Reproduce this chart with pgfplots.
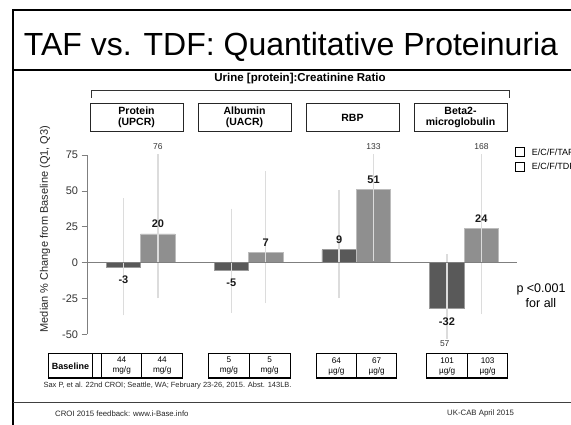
\documentclass[border=0pt]{standalone}
\usepackage{pgfplots}
\pgfplotsset{compat=1.18}
\usepackage{pgfplotstable}
\usepackage{fontspec}
\setmainfont{Liberation Sans}
\definecolor{tafc}{HTML}{595959}
\definecolor{tdfc}{HTML}{8F8F8F}
\definecolor{errc}{HTML}{DCDCDC}
\definecolor{axc}{HTML}{7F7F7F}
\newcommand{\fs}[2]{\fontsize{#1}{#2}\selectfont}

\pgfplotstableread{
x y q1 q3 lab
0 -3 -35 43 -3
1 -5 -33 36 -5
2 9 -23 49 9
3 -32 -57 4 -32
}\taf
\pgfplotstableread{
x y q1 q3 lab
0 20 -23 76 20
1 7 -26.5 62 7
2 51 3 133 51
3 24 -34 168 24
}\tdf

\begin{document}
\begin{tikzpicture}
\useasboundingbox (0pt,0pt) rectangle (571pt,425pt);
\clip (0pt,0pt) rectangle (571pt,425pt);
\begin{scope}[x=1pt,y=1pt]
% slide frame
\draw[line width=1.8pt] (13.3,0) -- (13.3,415) -- (571,415);
\draw[line width=1.5pt] (13.3,355) -- (571,355);
\draw[line width=0.8pt, black!75] (13.3,22.3) -- (571,22.3);
% title
\node[anchor=base, font=\fs{32}{38}] at (291,369.5) {TAF vs. TDF: Quantitative Proteinuria};
% header
\node[font=\bfseries\fs{11.5}{13}] at (300,346) {Urine [protein]:Creatinine Ratio};
\draw[line width=0.8pt, black!80] (91,327) -- (91,334.3) -- (509,334.3) -- (509,327);
\foreach \xa/\txt in {90/{Protein\\(UPCR)},198/{Albumin\\(UACR)},306/{RBP},414/{Beta2-\\microglobulin}}{
  \draw[line width=0.8pt, black!85] (\xa,293.5) rectangle (\xa+93,321.7);
  \node[font=\bfseries\fs{10.5}{11.5}, align=center] at (\xa+46.5,307.6) {\txt};
}
% y label
\node[rotate=90, font=\fs{11}{13}, text=black!85] at (45,196) {Median \% Change from Baseline (Q1, Q3)};
% legend
\draw[line width=0.7pt] (515.5,268.8) rectangle (524.5,277.2);
\draw[line width=0.7pt] (515.5,253.8) rectangle (524.5,262.2);
\node[anchor=west, inner sep=0pt, font=\fs{9}{11}] at (531.7,272.7) {E/C/F/TAF};
\node[anchor=west, inner sep=0pt, font=\fs{9}{11}] at (531.7,258.3) {E/C/F/TDF};
% p value
\node[align=center, font=\fs{12.5}{14.7}] at (541,129) {p <0.001\\for all};
% baseline table
\begin{scope}[line width=0.8pt]
\draw (48.3,47) rectangle (92.7,72);
\draw (92.7,47) rectangle (101.7,72);
\foreach \xa/\xb/\txt in {101.7/141.7/{44\\mg/g},141.7/182.7/{44\\mg/g},208.5/249.3/{5\\mg/g},249.3/290/{5\\mg/g},316/356.7/{64\\µg/g},356.7/396.7/{67\\µg/g},426.7/467.7/{101\\µg/g},467.7/507.7/{103\\µg/g}}{
  \draw (\xa,47) rectangle (\xb,72);
  \node[align=center, font=\fs{8.2}{10}] at ({(\xa+\xb)/2},59) {\txt};
}
\draw[line width=1.8pt] (48.3,47) -- (182.7,47);
\draw[line width=1.8pt] (208.5,47) -- (290,47);
\draw[line width=1.8pt] (316,47) -- (396.7,47);
\draw[line width=1.8pt] (426.7,47) -- (507.7,47);
\end{scope}
\node[font=\bfseries\fs{9}{11}] at (70.5,58.5) {Baseline};
\node[anchor=west, inner sep=0pt, font=\fs{7.5}{9}, text=black!85] at (43.3,39.5) {Sax P, et al. 22nd CROI; Seattle, WA; February 23-26, 2015. Abst. 143LB.};
% footer
\node[anchor=west, inner sep=0pt, font=\fs{7.8}{9}, text=black!85] at (55,11.7) {CROI 2015 feedback: www.i-Base.info};
\node[anchor=west, inner sep=0pt, font=\fs{7.8}{9}, text=black!85] at (447,11.7) {UK-CAB April 2015};
\end{scope}

\begin{axis}[
 at={(87.3pt,86.2pt)}, anchor=south west,
 scale only axis, width=430pt, height=184.5pt,
 xmin=-0.495, xmax=3.493, ymin=-53, ymax=75.5,
 axis line style={draw=none},
 xtick=\empty, ytick={-50,-25,0,25,50,75}, ytick pos=left,
 tick align=outside, major tick length=5.6pt, tick style={axc, line width=0.8pt},
 yticklabel style={font=\fs{11}{13}, text=black!80, inner sep=0pt, xshift=-3.4pt},
 /pgf/number format/assume math mode=true,
 clip mode=individual,
 ybar, bar width=34.4pt,
 error bars/y dir=both, error bars/y explicit,
 error bars/error bar style={errc, line width=1.4pt},
 error bars/error mark options={errc, line width=1.4pt, mark size=2.5pt},
 nodes near coords, point meta=explicit symbolic,
 every node near coord/.append style={font=\bfseries\fs{11}{13}, anchor=center, yshift={(\rawy<0) ? -13 : 10}, text=black!90},
]
\addplot[fill=tafc, draw=tafc!60!white, line width=0.6pt, bar shift=-17.2pt, visualization depends on={y \as \rawy}]
  table[x=x, y=y, meta=lab, y error plus expr=\thisrow{q3}-\thisrow{y}, y error minus expr=\thisrow{y}-\thisrow{q1}] {\taf};
\addplot[fill=tdfc, draw=tdfc!60!white, line width=0.6pt, bar shift=17.2pt, visualization depends on={y \as \rawy}]
  table[x=x, y=y, meta=lab, y error plus expr=\thisrow{q3}-\thisrow{y}, y error minus expr=\thisrow{y}-\thisrow{q1}] {\tdf};
\draw[axc, line width=1.2pt] (axis cs:-0.495,0) -- (axis cs:3.493,0);
\draw[axc, line width=0.8pt] (axis cs:-0.495,-50) -- (axis cs:-0.495,75);
\node[font=\fs{8.5}{10}, text=black!80] at (axis cs:0.16,80.8) {76};
\node[font=\fs{8.5}{10}, text=black!80] at (axis cs:2.16,80.8) {133};
\node[font=\fs{8.5}{10}, text=black!80] at (axis cs:3.16,80.8) {168};
\node[font=\fs{8.5}{10}, text=black!80] at (axis cs:2.82,-56.3) {57};
\end{axis}
\end{tikzpicture}
\end{document}
